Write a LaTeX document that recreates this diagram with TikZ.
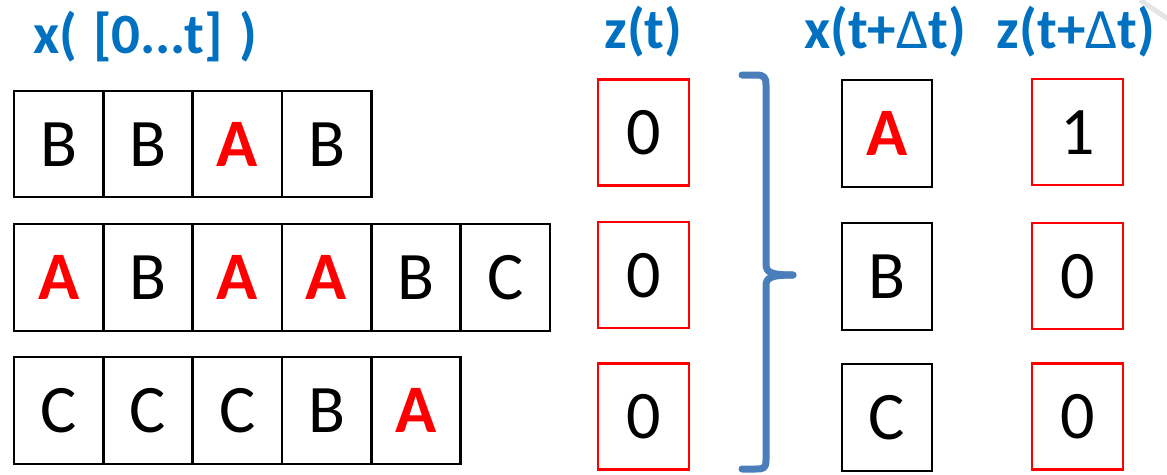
\documentclass[tikz,border=0pt]{standalone}
\usepackage{fontspec}
\setmainfont{Carlito}
\definecolor{hdrblue}{HTML}{0070C0}
\definecolor{bracecol}{HTML}{4A7EBB}
\begin{document}
\begin{tikzpicture}[x=1pt,y=-1pt,
 cell/.style={draw=black, line width=2.6pt, minimum width=89.3pt, minimum height=106pt, inner sep=0pt, text height=44pt, text depth=0pt, font=\fontsize{68}{80}\selectfont},
 hl/.style={text=red, font=\fontsize{68}{80}\selectfont\bfseries},
 xbox/.style={cell, minimum width=90pt, minimum height=107pt},
 zbox/.style={cell, draw=red, line width=2.2pt, minimum width=91pt},
 hdr/.style={text=hdrblue, font=\fontsize{57}{68}\selectfont\bfseries, inner sep=0pt},
 brace/.style={draw=bracecol, line width=7pt, line cap=round, line join=round}
]
\useasboundingbox (0,0) rectangle (1167,474);
% faint artifact in the corner
\draw[gray!20, line width=5pt] (1140,0) -- (1168,19);

% headers
\node[hdr, anchor=base west] (hx) at (33,53) {x(\hspace{16pt}[0...t]\hspace{16pt})};
\node[hdr, anchor=base] (hz) at (643.5,48) {z(t)};
\node[hdr, anchor=base] (hxd) at (885,48) {x(t+{\mdseries Δ}t)};
\node[hdr, anchor=base] (hzd) at (1076,48) {z(t+{\mdseries Δ}t)};

% row 1
\node[cell] (r1c1) at (58.65,144) {B};
\node[cell] (r1c2) at (147.95,144) {B};
\node[cell,hl] (r1c3) at (237.25,144) {A};
\node[cell] (r1c4) at (326.55,144) {B};
% row 2
\node[cell,hl,minimum height=107pt] (r2c1) at (58.65,277.5) {A};
\node[cell,minimum height=107pt] (r2c2) at (147.95,277.5) {B};
\node[cell,hl,minimum height=107pt] (r2c3) at (237.25,277.5) {A};
\node[cell,hl,minimum height=107pt] (r2c4) at (326.55,277.5) {A};
\node[cell,minimum height=107pt] (r2c5) at (415.85,277.5) {B};
\node[cell,minimum height=107pt] (r2c6) at (505.15,277.5) {C};
% row 3
\node[cell,minimum height=107pt] (r3c1) at (58.65,410.5) {C};
\node[cell,minimum height=107pt] (r3c2) at (147.95,410.5) {C};
\node[cell,minimum height=107pt] (r3c3) at (237.25,410.5) {C};
\node[cell,minimum height=107pt] (r3c4) at (326.55,410.5) {B};
\node[cell,hl,minimum height=107pt] (r3c5) at (415.85,410.5) {A};

% z(t)
\node[zbox] (z1) at (643.5,132.5) {0};
\node[zbox] (z2) at (643.5,275) {0};
\node[zbox] (z3) at (643.5,416.5) {0};

% x(t+dt)
\node[xbox,hl] (xd1) at (887,133.5) {A};
\node[xbox] (xd2) at (887,276.5) {B};
\node[xbox] (xd3) at (887,417.5) {C};

% z(t+dt)
\node[zbox] (zd1) at (1077.5,132) {1};
\node[zbox] (zd2) at (1077.5,276) {0};
\node[zbox] (zd3) at (1077.5,416.5) {0};

% brace
\draw[brace] (742,75) -- (756,75) .. controls (764,75) and (766,77) .. (766,85)
  -- (766,264) .. controls (766,272) and (770,275) .. (793,275);
\draw[brace] (793,275) .. controls (770,275) and (766,278) .. (766,286)
  -- (766,460) .. controls (766,468) and (764,469) .. (756,469) -- (742,469);
\end{tikzpicture}
\end{document}
